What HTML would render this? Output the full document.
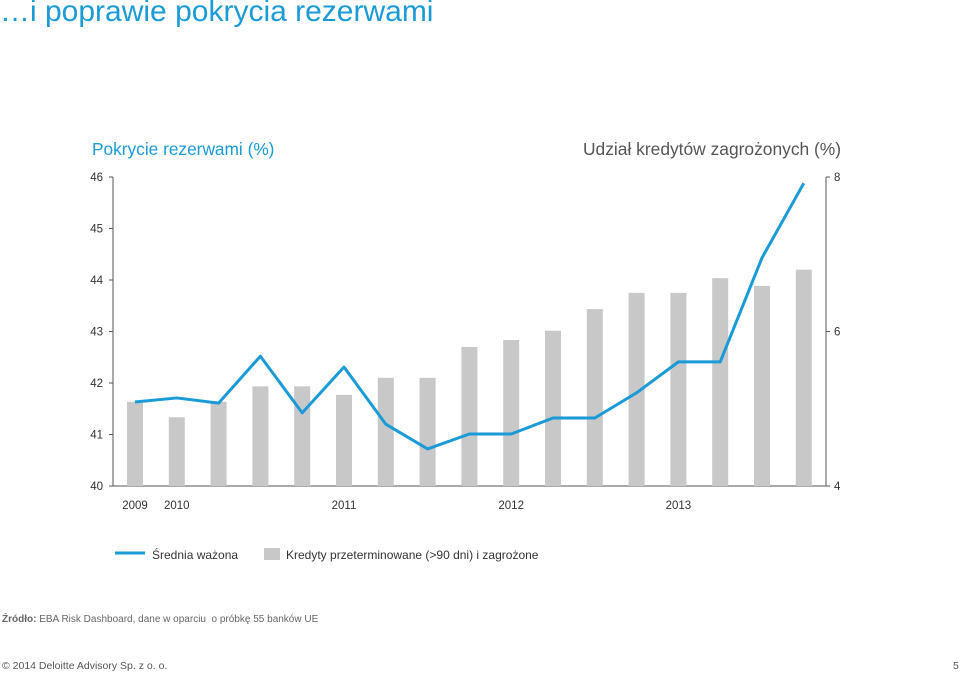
<!DOCTYPE html>
<html><head><meta charset="utf-8"><style>
body{margin:0;width:960px;height:674px;background:#fff;font-family:"Liberation Sans",sans-serif;overflow:hidden;position:relative}
.t{position:absolute;white-space:nowrap}
</style></head><body>
<div class="t" style="left:0;top:-5px;font-size:30px;color:#1a9ad6">…i poprawie pokrycia rezerwami</div>
<div class="t" style="left:92px;top:139px;font-size:17.3px;color:#1a9ad6">Pokrycie rezerwami (%)</div>
<div class="t" style="left:583px;top:139px;font-size:17.4px;color:#555">Udział kredytów zagrożonych (%)</div>
<svg id="chart" width="960" height="674" style="position:absolute;left:0;top:0"></svg>
<div class="t" style="left:2px;top:614px;font-size:10px;color:#666"><b>Źródło:</b> EBA Risk Dashboard, dane w oparciu &nbsp;o próbkę 55 banków UE</div>
<div class="t" style="left:2px;top:660px;font-size:10.5px;color:#555">© 2014 Deloitte Advisory Sp. z o. o.</div>
<div class="t" style="left:953px;top:660px;font-size:10.5px;color:#555">5</div>
<script>
const barValues=[5.09,4.89,5.09,5.29,5.29,5.18,5.40,5.40,5.80,5.89,6.01,6.29,6.50,6.50,6.69,6.59,6.80];
const lineValues=[41.63,41.71,41.61,42.52,41.42,42.31,41.20,40.72,41.01,41.01,41.32,41.32,41.81,42.41,42.41,44.43,45.88];
const leftTicks=[40,41,42,43,44,45,46];
const rightTicks=[4,6,8];
const yearLabels=["2009","2010","2011","2012","2013"];
const yearIndex=[0,1,5,9,13];
const NS="http://www.w3.org/2000/svg",svg=document.getElementById('chart');
function yL(v){return 486-(v-40)*51.5;}
function yR(v){return 486-(v-4)*77.25;}
function xI(i){return 135+i*41.8;}
function mk(tag,attrs){const e=document.createElementNS(NS,tag);for(const k in attrs)e.setAttribute(k,attrs[k]);svg.appendChild(e);return e;}
let e;
e=mk('line',{x1:113,y1:177,x2:113,y2:486,stroke:'#555'});


e=mk('line',{x1:826,y1:177,x2:826,y2:486,stroke:'#555'});


e=mk('line',{x1:113,y1:486,x2:826,y2:486,stroke:'#555'});


leftTicks.forEach(v=>{
 e=mk('line',{x1:109,x2:113,y1:yL(v),y2:yL(v),stroke:'#555'});
 
 
 e=mk('text',{x:103,y:yL(v)+4,'text-anchor':'end','font-size':11.5,fill:'#333'});e.textContent=v;
 
 
});
rightTicks.forEach(v=>{
 e=mk('line',{x1:826,x2:830,y1:yR(v),y2:yR(v),stroke:'#555'});
 
 
 e=mk('text',{x:834,y:yR(v)+4,'font-size':11.5,fill:'#333'});e.textContent=v;
 
 
});
barValues.forEach((v,i)=>{
 e=mk('rect',{x:xI(i)-8,y:yR(v),width:16,height:486-yR(v),fill:'#c8c8c8'});
 
 
});
e=mk('polyline',{points:lineValues.map((v,i)=>xI(i)+','+yL(v)).join(' '),fill:'none',stroke:'#1a9ad6','stroke-width':3,'stroke-linejoin':'round'});


yearLabels.forEach((l,k)=>{
 e=mk('text',{x:xI(yearIndex[k]),y:509,'text-anchor':'middle','font-size':11.5,fill:'#333'});e.textContent=l;
 
 
});
e=mk('line',{x1:115,x2:145,y1:553,y2:553,stroke:'#1a9ad6','stroke-width':3});


e=mk('text',{x:152,y:559,'font-size':12,fill:'#333'});e.textContent='Średnia ważona';


e=mk('rect',{x:264,y:548,width:16,height:12,fill:'#c8c8c8'});


e=mk('text',{x:286,y:559,'font-size':12,fill:'#333'});e.textContent='Kredyty przeterminowane (>90 dni) i zagrożone';


</script>
</body></html>
